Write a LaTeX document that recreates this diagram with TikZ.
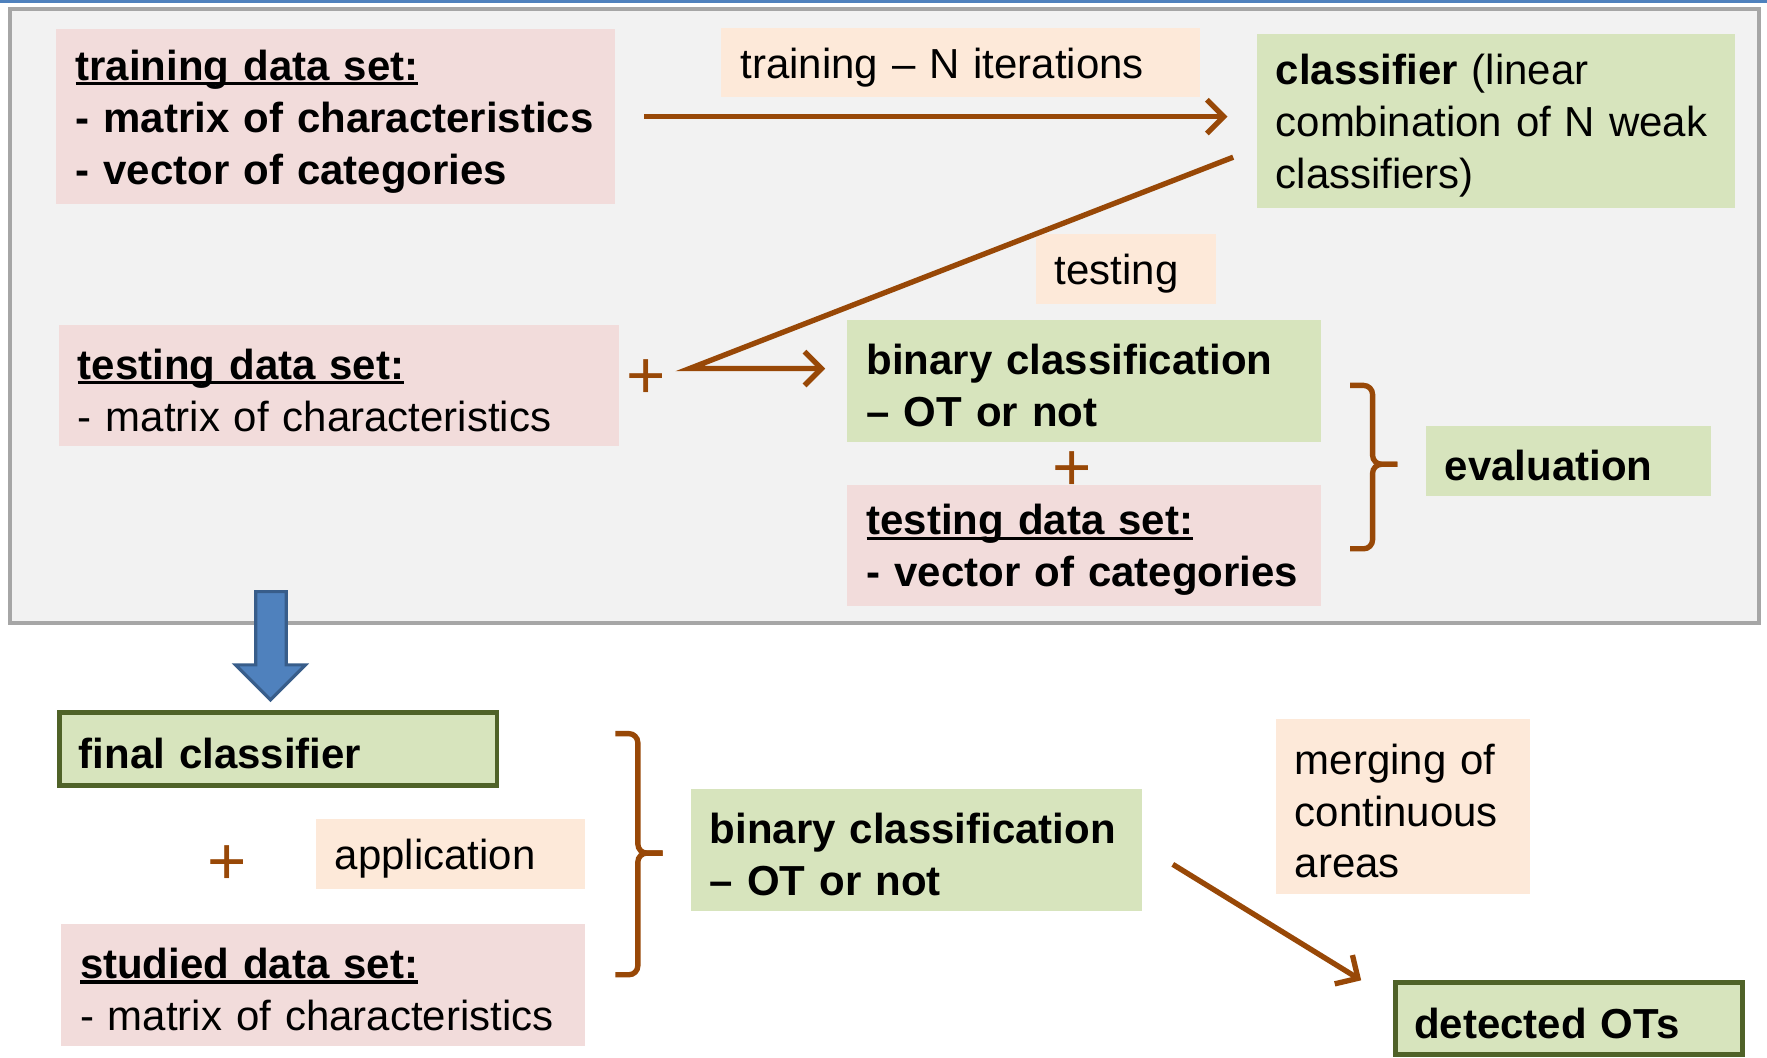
\documentclass[tikz,border=0pt]{standalone}
\usepackage{fontspec}
\setmainfont{Liberation Sans}
\usetikzlibrary{arrows.meta,calc}

\definecolor{pinkbox}{HTML}{F2DCDB}
\definecolor{peachbox}{HTML}{FDE9D9}
\definecolor{greenbox}{HTML}{D7E4BD}
\definecolor{greenline}{HTML}{4F6228}
\definecolor{brownline}{HTML}{984807}
\definecolor{panelfill}{HTML}{F2F2F2}
\definecolor{panelline}{HTML}{A6A6A6}
\definecolor{bluefill}{HTML}{4F81BD}
\definecolor{blueline}{HTML}{385D8A}

% bold heading with a thick underline
\newcommand{\hdr}[1]{\setbox0\hbox{\bfseries #1}\rlap{\rule[-0.12em]{\wd0}{0.08em}}\box0}

\begin{document}
\begin{tikzpicture}[x=1cm,y=-1cm,>={Straight Barb[length=1.5mm,width=3mm]}]
			\tikzstyle{box} = [rectangle,inner xsep=0.17cm,inner ysep=0pt,align=left,font=\fontsize{10.6}{13.1}\selectfont,execute at begin node={\rule{0pt}{0.95em}}];
			\tikzstyle{databox} = [box,fill=pinkbox];
			\tikzstyle{stepbox} = [box,fill=peachbox];
			\tikzstyle{resultbox} = [box,fill=greenbox];
			\tikzstyle{finalbox} = [box,fill=greenbox,draw=greenline,line width=1.2pt];
			\tikzstyle{conn} = [draw=brownline,line width=1.35pt];
			\tikzstyle{plus} = [text=brownline,inner sep=0pt,font=\fontsize{17}{17}\selectfont];
			\useasboundingbox (0,0) rectangle (15.68,9.38);
			\draw[bluefill,line width=0.7pt] (0,0.015) -- (15.68,0.015);
			\draw[fill=panelfill,draw=panelline,line width=1.1pt] (0.09,0.08) rectangle (15.61,5.53);
			% training and testing
			\node[databox,text width=4.62cm,minimum height=1.55cm] (train) at (2.98,1.035) {\hdr{training data set:}\\\textbf{- matrix of characteristics}\\\textbf{- vector of categories}};
			\node[stepbox,text width=3.91cm,minimum height=0.61cm] (iter) at (8.525,0.555) {training – N iterations};
			\node[resultbox,text width=3.91cm,minimum height=1.55cm] (clf) at (13.275,1.075) {\textbf{classifier} (linear\\combination of N weak\\classifiers)};
			\node[stepbox,text width=1.26cm,minimum height=0.62cm] (testlbl) at (9.99,2.39) {testing};
			\node[databox,text width=4.63cm,minimum height=1.08cm] (test1) at (3.005,3.42) {\hdr{testing data set:}\\- matrix of characteristics};
			\node[plus] (plus1) at (5.73,3.36) {+};
			\node[resultbox,text width=3.86cm,minimum height=1.08cm] (bin1) at (9.62,3.38) {\textbf{binary classification}\\\textbf{– OT or not}};
			\node[plus] (plus2) at (9.51,4.18) {+};
			\node[databox,text width=3.86cm,minimum height=1.08cm] (test2) at (9.62,4.84) {\hdr{testing data set:}\\\textbf{- vector of categories}};
			\node[resultbox,text width=2.19cm,minimum height=0.62cm] (eval) at (13.915,4.09) {\textbf{evaluation}};
			\coordinate (fork) at (6.12,3.27);
			\draw[conn,->,shorten <=0.25cm,shorten >=0.25cm] (train.east) -- (train.east -| clf.west);
			\draw[conn,->,shorten >=0.19cm] ($(clf.west)+(-0.2,0.32)$) -- (fork) -- (fork -| bin1.west);
			\draw[conn,rounded corners=0.08cm] (11.98,3.42) -| (12.18,4.12) -- (12.40,4.12);
			\draw[conn,rounded corners=0.08cm] (12.40,4.12) -- (12.18,4.12) |- (11.98,4.87);
			% application
			\draw[fill=bluefill,draw=blueline,line width=0.8pt] (2.27,5.25) -- (2.54,5.25) -- (2.54,5.90) -- (2.71,5.90) -- (2.40,6.21) -- (2.09,5.90) -- (2.27,5.90) -- cycle;
			\node[finalbox,text width=3.54cm,minimum height=0.65cm] (final) at (2.47,6.645) {\textbf{final classifier}};
			\node[plus] (plus3) at (2.02,7.68) {+};
			\node[stepbox,text width=2.05cm,minimum height=0.62cm] (appl) at (3.995,7.58) {application};
			\node[databox,text width=4.31cm,minimum height=1.08cm] (studied) at (2.865,8.74) {\hdr{studied data set:}\\- matrix of characteristics};
			\node[resultbox,text width=3.66cm,minimum height=1.08cm] (bin2) at (8.13,7.54) {\textbf{binary classification}\\\textbf{– OT or not}};
			\node[stepbox,text width=1.92cm,minimum height=1.55cm] (merge) at (12.45,7.155) {merging of\\continuous\\areas};
			\node[finalbox,text width=2.74cm,minimum height=0.64cm] (detected) at (13.92,9.04) {\textbf{detected OTs}};
			\draw[conn,rounded corners=0.08cm] (5.46,6.51) -| (5.66,7.57) -- (5.88,7.57);
			\draw[conn,rounded corners=0.08cm] (5.88,7.57) -- (5.66,7.57) |- (5.46,8.65);
			\draw[conn,->] ($(bin2.east)+(0.27,0.13)$) -- ($(detected.north west)+(-0.28,0)$);
		\end{tikzpicture}
\end{document}
